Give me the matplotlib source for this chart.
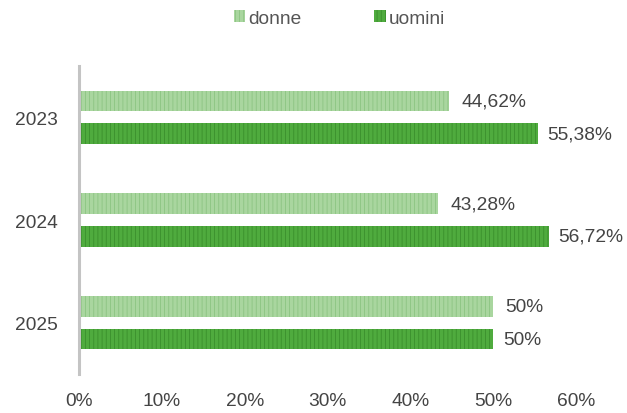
import numpy as np
import matplotlib.pyplot as plt

years = ['2023', '2024', '2025']
donne = [44.62, 43.28, 50]
uomini = [55.38, 56.72, 50]
donne_lbl = ['44,62%', '43,28%', '50%']
uomini_lbl = ['55,38%', '56,72%', '50%']
xticks = [0, 10, 20, 30, 40, 50, 60]

plt.rcParams['font.family'] = ['Liberation Sans', 'DejaVu Sans']
plt.rcParams['hatch.linewidth'] = 0.6

fig = plt.figure(figsize=(6.27, 4.14), dpi=100)
ax = fig.add_axes([79 / 627, 1 - 375 / 414, (576 - 79) / 627, (375 - 67) / 414])

y = np.arange(len(years))
h = 0.2
off = 0.16
c_d, e_d = '#a9d69f', '#8cc482'
c_u, e_u = '#4fab3e', '#3a8f2c'
fs = 13.8

ax.barh(y - off, donne, height=h, color=c_d, edgecolor=e_d, hatch='||||', linewidth=0, label='donne')
ax.barh(y + off, uomini, height=h, color=c_u, edgecolor=e_u, hatch='||||', linewidth=0, label='uomini')

for yi, v, t in zip(y, donne, donne_lbl):
    ax.annotate(t, (v, yi - off), xytext=(9, 0), textcoords='offset points',
                va='center', ha='left', fontsize=fs, color='#444444')
for yi, v, t in zip(y, uomini, uomini_lbl):
    ax.annotate(t, (v, yi + off), xytext=(7, 0), textcoords='offset points',
                va='center', ha='left', fontsize=fs, color='#444444')

ax.set_xlim(0, 60)
ax.set_ylim(2.5, -0.5)
ax.set_yticks(y)
ax.set_yticklabels(years)
ax.set_xticks(xticks)
ax.set_xticklabels(['%d%%' % v for v in xticks])
ax.tick_params(axis='both', length=0, labelsize=fs, labelcolor='#444444')
ax.tick_params(axis='y', pad=15)
ax.tick_params(axis='x', pad=13)

for s in ['top', 'right', 'bottom']:
    ax.spines[s].set_visible(False)
ax.spines['left'].set_color('#c4c4c4')
ax.spines['left'].set_linewidth(2.2)

fig.legend(loc='upper center', bbox_to_anchor=(0.541, 1.015), ncol=2, frameon=False,
           fontsize=fs, handlelength=0.6, handleheight=0.6, handletextpad=0.15,
           columnspacing=3.8, labelcolor='#555555')

fig.savefig('out.png', dpi=100)
